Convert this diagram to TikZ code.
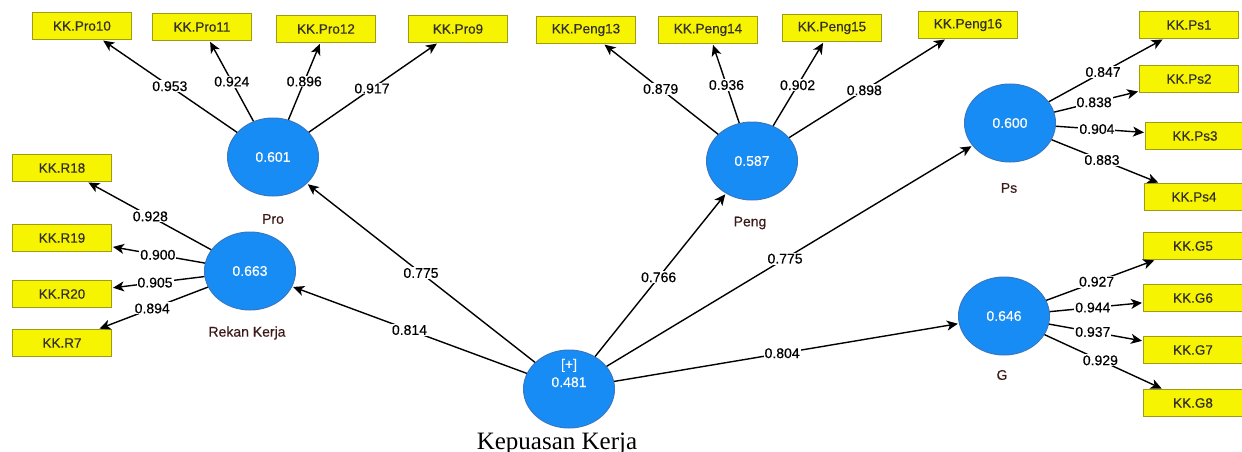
\documentclass[tikz,border=0pt]{standalone}
\usepackage{fontspec}
\setmainfont{Liberation Serif}
\setsansfont{Liberation Sans}
\newfontfamily\uifont{Liberation Sans}[FakeBold=0.35]
\usetikzlibrary{shapes.geometric,arrows.meta,calc}

\definecolor{lvblue}{RGB}{24,140,245}
\definecolor{lvedge}{RGB}{55,120,195}
\definecolor{mvfill}{RGB}{246,244,0}
\definecolor{mvedge}{RGB}{160,155,20}
\definecolor{lvname}{RGB}{60,25,25}

\tikzset{
  latent/.style={ellipse, fill=lvblue, draw=lvedge, line width=1pt,
    minimum width=91pt, minimum height=78pt, inner sep=0pt,
    text=white, font=\uifont\fontsize{14}{16}\selectfont},
  indicator/.style={rectangle, fill=mvfill, draw=mvedge, line width=1pt,
    minimum width=99pt, minimum height=27pt, inner sep=0pt,
    text=black!85!olive, font=\uifont\fontsize{13.5}{15}\selectfont},
  arr/.style={line width=1.4pt, -{Stealth[length=11pt,width=10pt,inset=3pt]},
    shorten >=1pt},
  loading/.style={fill=white, inner sep=1pt,
    font=\uifont\fontsize{14}{16}\selectfont},
  lvlabel/.style={text=lvname, font=\uifont\fontsize{14}{16}\selectfont},
}

% loadings: connector with its value placed along the centre line
\newcommand{\loadarrow}[4]{%
  \draw[arr] (#1) -- (#2);
  \node[loading] at ($(#1)!#3!(#2)$) {#4};}

\begin{document}
\begin{tikzpicture}[x=1pt, y=-1pt]
\useasboundingbox (0,0) rectangle (1242,452);
\clip (0,0) rectangle (1242,452);

% latent variables
\node[latent] (pro)   at (273,157) {0.601};
\node[latent] (rekan) at (250,271) {0.663};
\node[latent] (peng)  at (752,161) {0.587};
\node[latent] (ps)    at (1010,123) {0.600};
\node[latent] (g)     at (1004,316) {0.646};
\node[latent] (kep)   at (569,389) {};
\node[text=white, font=\uifont\fontsize{14}{16}\selectfont, align=center]
  (kepval) at (569,373) {[+]\\[2pt]0.481};

% latent variable names
\node[lvlabel] (proname)   at (273,219) {Pro};
\node[lvlabel] (rekanname) at (247,333) {Rekan Kerja};
\node[lvlabel] (pengname)  at (750,223) {Peng};
\node[lvlabel] (psname)    at (1009,188) {Ps};
\node[lvlabel] (gname)     at (1002,375) {G};
\node[anchor=base, font=\fontsize{25}{27}\selectfont] (kepname) at (557,449)
  {Kepuasan Kerja};

% indicators
\node[indicator] (pro10) at (82,26) {KK.Pro10};
\node[indicator] (pro11) at (202,27) {KK.Pro11};
\node[indicator] (pro12) at (326,29) {KK.Pro12};
\node[indicator] (pro9)  at (458,29) {KK.Pro9};

\node[indicator] (peng13) at (586,30) {KK.Peng13};
\node[indicator] (peng14) at (708,30) {KK.Peng14};
\node[indicator] (peng15) at (832,28) {KK.Peng15};
\node[indicator] (peng16) at (968,25) {KK.Peng16};

\node[indicator] (ps1) at (1189,25)  {KK.Ps1};
\node[indicator] (ps2) at (1189,79)  {KK.Ps2};
\node[indicator] (ps3) at (1195,136) {KK.Ps3};
\node[indicator] (ps4) at (1194,197) {KK.Ps4};

\node[indicator] (r18) at (62,168) {KK.R18};
\node[indicator] (r19) at (62,238) {KK.R19};
\node[indicator] (r20) at (62,294) {KK.R20};
\node[indicator] (r7)  at (62,343) {KK.R7};

\node[indicator] (g5) at (1193,246) {KK.G5};
\node[indicator] (g6) at (1193,298) {KK.G6};
\node[indicator] (g7) at (1193,350) {KK.G7};
\node[indicator] (g8) at (1193,403) {KK.G8};

\loadarrow{pro}{pro10}{0.54}{0.953}
\loadarrow{pro}{pro11}{0.58}{0.924}
\loadarrow{pro}{pro12}{0.59}{0.896}
\loadarrow{pro}{pro9}{0.535}{0.917}

\loadarrow{peng}{peng13}{0.55}{0.879}
\loadarrow{peng}{peng14}{0.58}{0.936}
\loadarrow{peng}{peng15}{0.57}{0.902}
\loadarrow{peng}{peng16}{0.52}{0.898}

\loadarrow{ps}{ps1}{0.52}{0.847}
\loadarrow{ps}{ps2}{0.47}{0.838}
\loadarrow{ps}{ps3}{0.47}{0.904}
\loadarrow{ps}{ps4}{0.50}{0.883}

\loadarrow{rekan}{r18}{0.53}{0.928}
\loadarrow{rekan}{r19}{0.49}{0.900}
\loadarrow{rekan}{r20}{0.505}{0.905}
\loadarrow{rekan}{r7}{0.52}{0.894}

\loadarrow{g}{g5}{0.49}{0.927}
\loadarrow{g}{g6}{0.47}{0.944}
\loadarrow{g}{g7}{0.47}{0.937}
\loadarrow{g}{g8}{0.51}{0.929}

% second-order paths
\loadarrow{kep}{pro}{0.50}{0.775}
\loadarrow{kep}{rekan}{0.50}{0.814}
\loadarrow{kep}{peng}{0.49}{0.766}
\loadarrow{kep}{ps}{0.49}{0.775}
\loadarrow{kep}{g}{0.49}{0.804}
\end{tikzpicture}
\end{document}
